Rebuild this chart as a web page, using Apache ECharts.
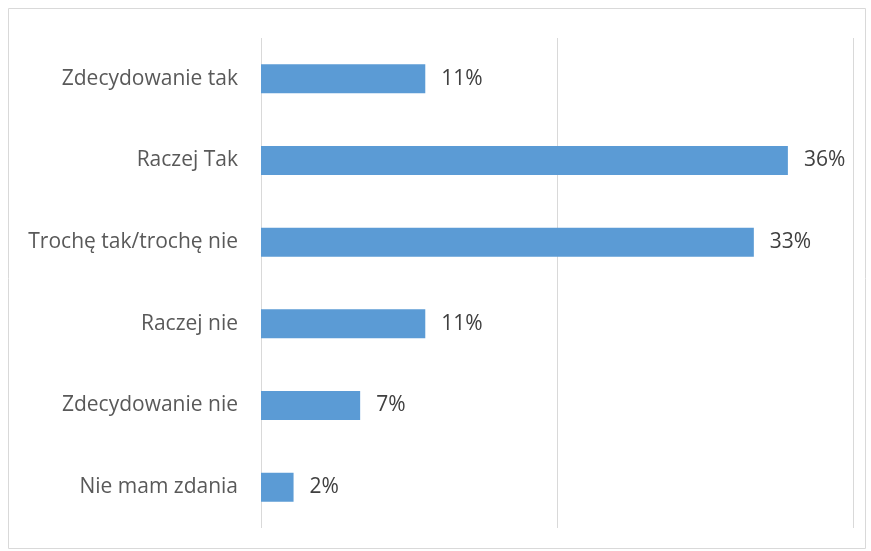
<!DOCTYPE html>
<html>
<head>
<meta charset="utf-8">
<script src="https://cdn.jsdelivr.net/npm/echarts@6/dist/echarts.min.js"></script>
<style>
html,body{margin:0;padding:0;background:#fff;}
#chart{width:871px;height:551px;}
</style>
</head>
<body>
<div id="chart"></div>
<script>
const categories = ['Zdecydowanie tak','Raczej Tak','Trochę tak/trochę nie','Raczej nie','Zdecydowanie nie','Nie mam zdania'];
const values = [11.1, 35.6, 33.3, 11.1, 6.7, 2.2];
const axisMax = 40;
const axisInterval = 20;

const chart = echarts.init(document.getElementById('chart'));
const font = '"Open Sans", "Noto Sans", sans-serif';
chart.setOption({
  animation: false,
  graphic: [{
    type: 'rect',
    shape: {x: 8.5, y: 8.5, width: 857, height: 540},
    style: {fill: 'none', stroke: '#d9d9d9', lineWidth: 1}
  }],
  grid: {left: 261, right: 18, top: 38, bottom: 23, containLabel: false},
  xAxis: {
    type: 'value', min: 0, max: axisMax, interval: axisInterval,
    axisLabel: {show: false},
    axisLine: {show: false},
    axisTick: {show: false},
    splitLine: {show: true, lineStyle: {color: '#d9d9d9', width: 1}}
  },
  yAxis: {
    type: 'category', inverse: true, data: categories,
    axisLine: {show: false},
    axisTick: {show: false},
    axisLabel: {color: '#595959', fontSize: 21, fontFamily: font, margin: 23}
  },
  series: [{
    type: 'bar', data: values, barWidth: 29,
    itemStyle: {color: '#5b9bd5'},
    label: {show: true, position: 'right', distance: 16, color: '#404040', fontSize: 21, fontFamily: font,
      formatter: p => Math.round(p.value) + '%'}
  }]
});
</script>
</body>
</html>
